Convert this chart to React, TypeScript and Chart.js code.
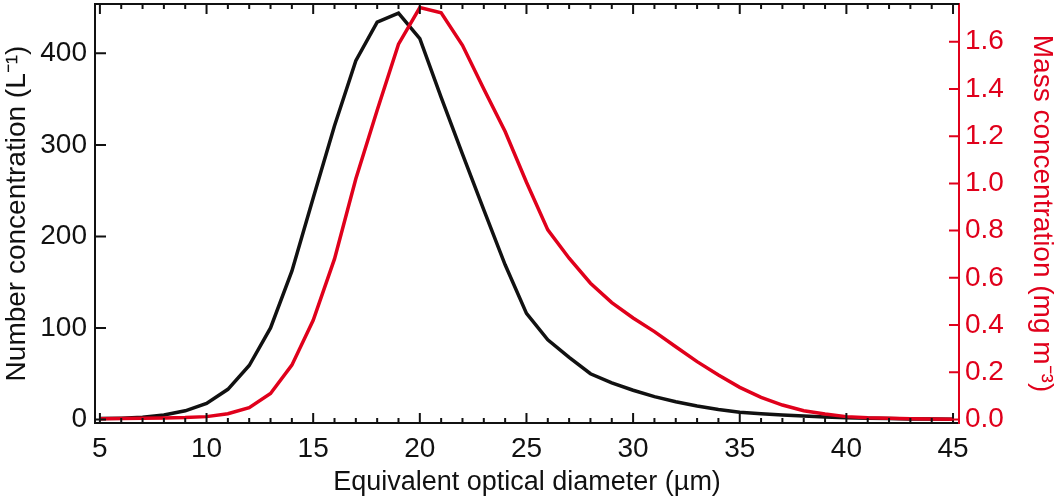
import React, { useEffect, useRef } from 'react'
import { Chart, ChartConfiguration, registerables } from 'chart.js'

// diameters in µm
const diameters = [
  5, 6, 7, 8, 9, 10, 11, 12, 13, 14, 15, 16, 17, 18, 19, 20, 21, 22, 23, 24, 25,
  26, 27, 28, 29, 30, 31, 32, 33, 34, 35, 36, 37, 38, 39, 40, 41, 42, 43, 44, 45,
]

// number concentration, L^-1
const numberConc = [
  1, 1.5, 2.5, 5, 9.5, 17.5, 33, 59, 100, 162, 242, 321, 392, 434, 444, 416, 352,
  290, 229, 169, 116, 87, 68, 50, 40, 32, 25, 19.5, 14.7, 11, 8, 6.3, 5, 3.8, 2.8,
  2, 1.5, 1, 0.7, 0.5, 0.3,
]

// mass concentration, mg m^-3
const massConc = [
  0.003, 0.004, 0.005, 0.006, 0.008, 0.012, 0.024, 0.05, 0.11, 0.23, 0.42, 0.68,
  1.02, 1.31, 1.59, 1.745, 1.723, 1.585, 1.4, 1.22, 1.005, 0.803, 0.683, 0.577,
  0.495, 0.43, 0.372, 0.308, 0.245, 0.188, 0.136, 0.094, 0.061, 0.037, 0.023,
  0.012, 0.007, 0.005, 0.003, 0.002, 0.001,
]

const diameterTicks = [5, 10, 15, 20, 25, 30, 35, 40, 45]
const numberTicks = [0, 100, 200, 300, 400]
const massTicks = [0, 0.2, 0.4, 0.6, 0.8, 1.0, 1.2, 1.4, 1.6]

const RED = '#e0001b'
const INK = '#111'
const FONT = "'Liberation Sans', Arial, sans-serif"

// frame on top plus inward tick marks on all four sides
const frameTicks = {
  id: 'frameTicks',
  afterDraw(chart: any) {
    const { ctx, chartArea: a, scales } = chart
    const x = scales.x
    const y = scales.y
    const y1 = scales.y1
    ctx.save()
    ctx.lineWidth = 2
    ctx.strokeStyle = INK
    ctx.beginPath()
    ctx.moveTo(a.left, a.top)
    ctx.lineTo(a.right, a.top)
    for (let d = Math.ceil(x.min); d <= x.max; d++) {
      const px = x.getPixelForValue(d)
      const len = d % 5 === 0 ? 10 : 5
      ctx.moveTo(px, a.top)
      ctx.lineTo(px, a.top + len)
      ctx.moveTo(px, a.bottom)
      ctx.lineTo(px, a.bottom - len)
    }
    for (const v of numberTicks) {
      const py = y.getPixelForValue(v)
      ctx.moveTo(a.left, py)
      ctx.lineTo(a.left + 11, py)
    }
    ctx.stroke()
    ctx.strokeStyle = RED
    ctx.beginPath()
    for (const v of massTicks) {
      const py = y1.getPixelForValue(v)
      ctx.moveTo(a.right, py)
      ctx.lineTo(a.right - 10, py)
    }
    ctx.stroke()
    ctx.restore()
  },
}

const SizeChart = () => {
  const chartRef = useRef<any>()

  useEffect(() => {
    Chart.register(...registerables)

    const chartConfig: ChartConfiguration = {
      type: 'line',
      data: {
        datasets: [
          {
            label: 'Mass concentration',
            data: diameters.map((d, i) => ({ x: d, y: massConc[i] })),
            yAxisID: 'y1',
            borderColor: RED,
            borderWidth: 3.5,
            pointRadius: 0,
            tension: 0,
            order: 0,
          },
          {
            label: 'Number concentration',
            data: diameters.map((d, i) => ({ x: d, y: numberConc[i] })),
            yAxisID: 'y',
            borderColor: INK,
            borderWidth: 3.5,
            pointRadius: 0,
            tension: 0,
            order: 1,
          },
        ],
      },
      options: {
        animation: false,
        responsive: false,
        layout: { padding: { top: 4, left: 0, right: 0, bottom: 0 } },
        scales: {
          x: {
            type: 'linear',
            min: 4.77,
            max: 45.28,
            afterBuildTicks: (s: any) => {
              s.ticks = diameterTicks.map((v) => ({ value: v }))
            },
            afterFit: (s: any) => {
              s.height = 76
              s.paddingLeft = 0
              s.paddingRight = 0
            },
            grid: { display: false, drawTicks: false },
            border: { display: true, color: INK, width: 2 },
            ticks: {
              padding: 9,
              color: INK,
              maxRotation: 0,
              font: { family: FONT, size: 28 },
            },
            title: {
              display: true,
              text: 'Equivalent optical diameter (µm)',
              color: INK,
              padding: 0,
              font: { family: FONT, size: 27 },
            },
          },
          y: {
            position: 'left',
            min: -3.8,
            max: 453.9,
            afterBuildTicks: (s: any) => {
              s.ticks = numberTicks.map((v) => ({ value: v }))
            },
            afterFit: (s: any) => {
              s.width = 95
              s.paddingTop = 0
              s.paddingBottom = 0
            },
            grid: { display: false, drawTicks: false },
            border: { display: true, color: INK, width: 2 },
            ticks: {
              padding: 8,
              color: INK,
              font: { family: FONT, size: 28 },
            },
            title: {
              display: true,
              text: 'Number concentration (L⁻¹)',
              color: INK,
              padding: 0,
              font: { family: FONT, size: 28 },
            },
          },
          y1: {
            position: 'right',
            min: -0.015,
            max: 1.76,
            afterBuildTicks: (s: any) => {
              s.ticks = massTicks.map((v) => ({ value: v }))
            },
            afterFit: (s: any) => {
              s.width = 100
              s.paddingTop = 0
              s.paddingBottom = 0
            },
            grid: { display: false, drawTicks: false },
            border: { display: true, color: RED, width: 2 },
            ticks: {
              padding: 6,
              color: RED,
              font: { family: FONT, size: 28 },
              callback: (v: any) => Number(v).toFixed(1),
            },
            title: {
              display: true,
              text: 'Mass concentration (mg m⁻³)',
              color: RED,
              padding: 0,
              font: { family: FONT, size: 28 },
            },
          },
        },
        plugins: {
          legend: { display: false },
          tooltip: { enabled: false },
        },
      },
      plugins: [frameTicks],
    }

    const chart = new Chart(chartRef.current, chartConfig)

    return () => {
      chart.destroy()
    }
  }, [])

  return (
    <div style={{ position: 'fixed', left: 0, top: 0, width: 1059, height: 499, background: '#fff' }}>
      <canvas ref={chartRef} width={1059} height={499} style={{ display: 'block' }}></canvas>
    </div>
  )
}

export default SizeChart
